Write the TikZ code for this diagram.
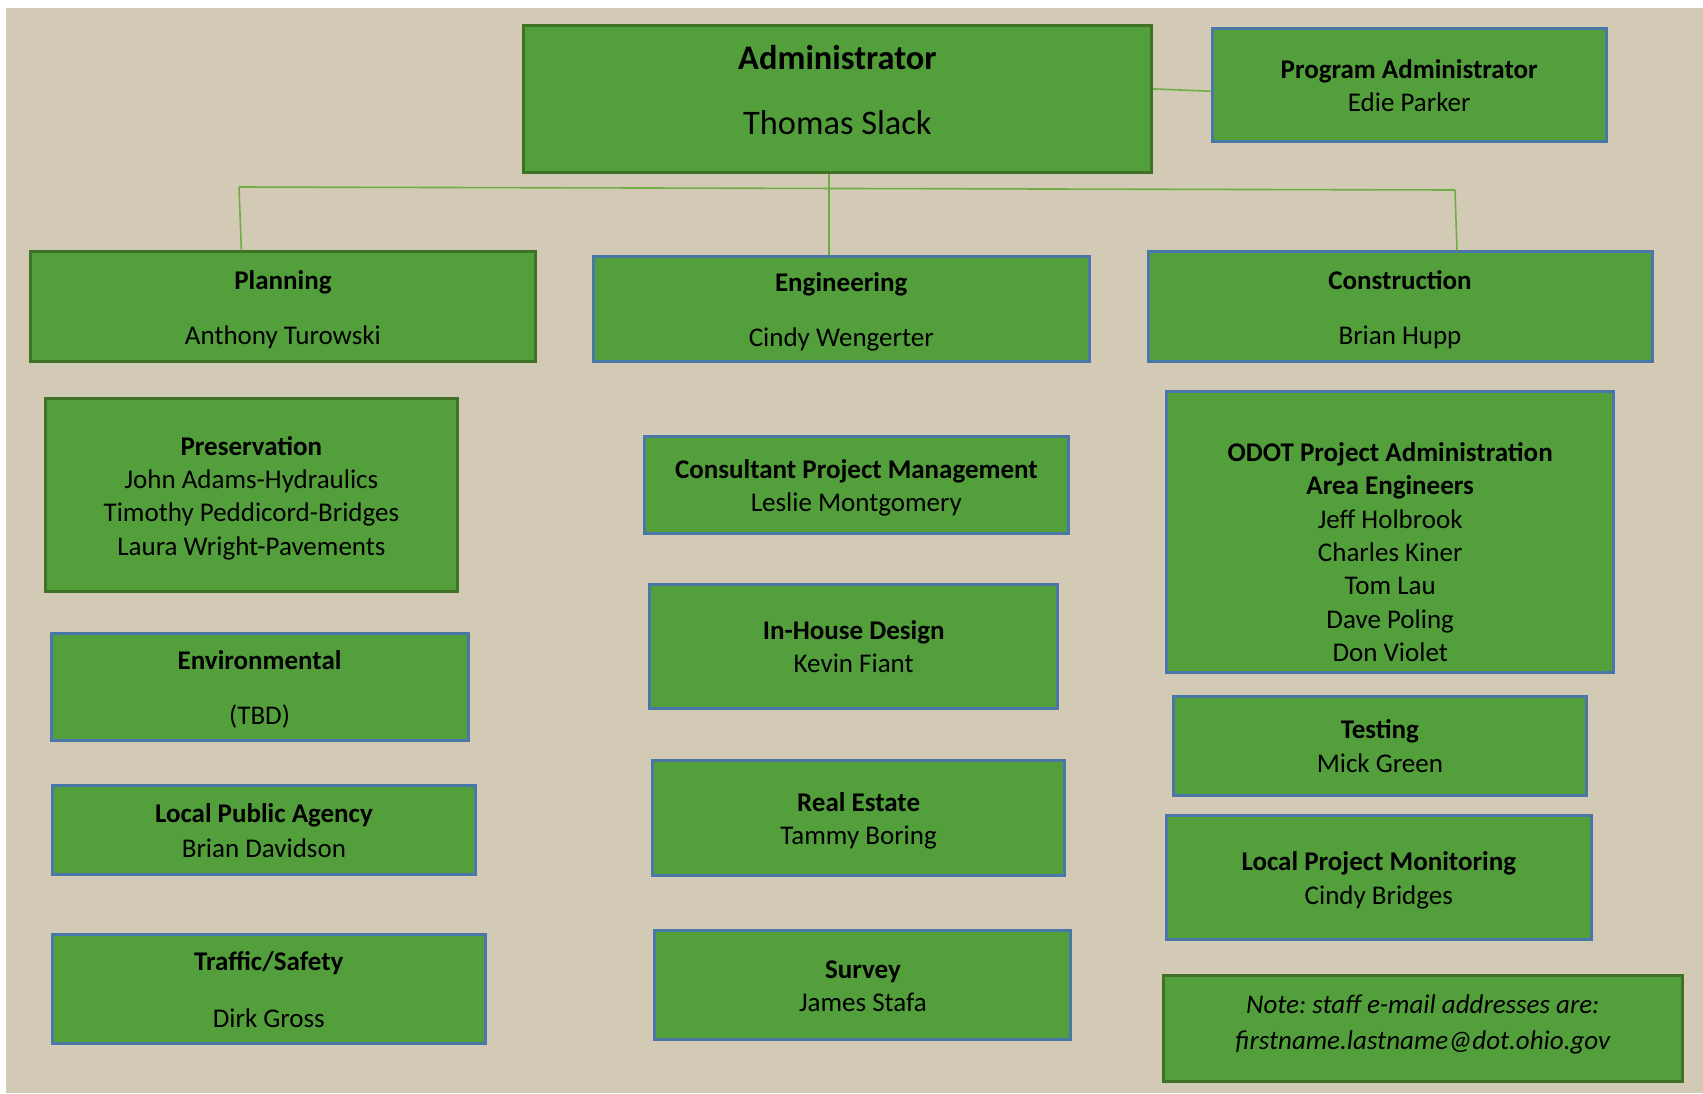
\documentclass[tikz,border=0pt]{standalone}
\usepackage{fontspec}
\setmainfont{Carlito}
\frenchspacing
\definecolor{bg}{HTML}{D3CAB5}
\definecolor{boxgreen}{HTML}{539F3B}
\definecolor{darkgreen}{HTML}{3F7127}
\definecolor{bluebord}{HTML}{4A76A8}
\definecolor{connc}{HTML}{70AD47}
\newcommand\tstrut{\rule{0pt}{30pt}}
\begin{document}
\begin{tikzpicture}[x=1pt,y=-1pt,
  box/.style={fill=boxgreen, line width=3pt, inner sep=0pt, align=center,
    font=\fontsize{27}{33.3}\selectfont\frenchspacing, text=black},
  gbox/.style={box, draw=darkgreen},
  bbox/.style={box, draw=bluebord},
  conn/.style={draw=connc, line width=1.6pt}]
\useasboundingbox (0,0) rectangle (1703,1093);
\fill[white] (0,0) rectangle (1703,1093);
\fill[bg] (6,8) rectangle (1703,1093);

% top
\node[gbox, minimum width=627.8pt, minimum height=147.7pt,
  font=\fontsize{34.4}{42}\selectfont] (admin) at (837.4,98.9)
  {\rule{0pt}{33.8pt}\textbf{Administrator}\\[23pt]Thomas Slack\rule[-27.4pt]{0pt}{27.4pt}};
\node[bbox, minimum width=394.2pt, minimum height=113pt] (prog) at (1409.2,84.7)
  {\tstrut\textbf{Program Administrator}\\Edie Parker\strut};

% divisions
\node[gbox, minimum width=505pt, minimum height=109.7pt] (plan) at (282.9,306.8)
  {\tstrut\textbf{Planning}\\[22.2pt]Anthony Turowski\strut};
\node[bbox, minimum width=496.4pt, minimum height=105.4pt] (eng) at (841.2,309)
  {\tstrut\textbf{Engineering}\\[22.2pt]Cindy Wengerter\strut};
\node[bbox, minimum width=504pt, minimum height=109.7pt] (cons) at (1400,306.8)
  {\tstrut\textbf{Construction}\\[22.2pt]Brian Hupp\strut};

% planning column
\node[gbox, minimum width=411.6pt, minimum height=193.3pt] (pres) at (251.4,495.3)
  {\tstrut\textbf{Preservation}\\John Adams-Hydraulics\\Timothy Peddicord-Bridges\\Laura Wright-Pavements\strut};
\node[bbox, minimum width=417.1pt, minimum height=107.5pt] (env) at (259.6,687)
  {\tstrut\textbf{Environmental}\\[22.2pt](TBD)\strut};
\node[bbox, minimum width=423.6pt, minimum height=89pt] (lpa) at (263.9,829.8)
  {\tstrut\textbf{Local Public Agency}\\[1.4pt]Brian Davidson\strut};
\node[bbox, minimum width=433.4pt, minimum height=109.7pt] (traf) at (268.8,988.9)
  {\tstrut\textbf{Traffic/Safety}\\[23.2pt]Dirk Gross\strut};

% engineering column
\node[bbox, minimum width=424.6pt, minimum height=96.7pt] (cpm) at (856.4,485)
  {\tstrut\textbf{Consultant Project Management}\\Leslie Montgomery\strut};
\node[bbox, minimum width=408.4pt, minimum height=123.8pt] (ihd) at (853.7,646.2)
  {\tstrut\textbf{In-House Design}\\Kevin Fiant\strut};
\node[bbox, minimum width=411.7pt, minimum height=115.1pt] (re) at (858.6,817.9)
  {\tstrut\textbf{Real Estate}\\Tammy Boring\strut};
\node[bbox, minimum width=416pt, minimum height=108.6pt] (surv) at (862.9,985.1)
  {\tstrut\textbf{Survey}\\James Stafa\strut};

% construction column
\node[bbox, minimum width=447.4pt, minimum height=281.3pt] (odot) at (1390.2,531.7)
  {\rule{0pt}{69.4pt}\textbf{ODOT Project Administration}\\\textbf{Area Engineers}\\Jeff Holbrook\\Charles Kiner\\Tom Lau\\Dave Poling\\Don Violet\strut};
\node[bbox, minimum width=413.8pt, minimum height=98.8pt] (test) at (1379.9,745.6)
  {\tstrut\textbf{Testing}\\[1.4pt]Mick Green\strut};
\node[bbox, minimum width=424.6pt, minimum height=123.8pt] (lpm) at (1378.8,877.6)
  {\tstrut\textbf{Local Project Monitoring}\\[1.4pt]Cindy Bridges\strut};
\node[gbox, minimum width=519.2pt, minimum height=106.5pt,
  font=\fontsize{27}{33.3}\selectfont\itshape\frenchspacing] (note) at (1422.8,1028.6)
  {\rule{0pt}{27.7pt}Note: staff e-mail addresses are:\\[2.5pt]firstname.lastname@dot.ohio.gov\rule[-21.3pt]{0pt}{21.3pt}};

% connectors
\coordinate (busL) at (239,187);
\coordinate (busR) at (1455,190);
\draw[conn] (busL) -- (busR);
\draw[conn] (busL) -- ([xshift=-41.5pt]plan.north);
\draw[conn] (busR) -- ([xshift=57pt]cons.north);
\draw[conn] ([xshift=-8.4pt]admin.south) -- ([xshift=-12.2pt]eng.north);
\draw[conn] ([yshift=10pt]admin.east) -- ([yshift=-6.5pt]prog.west);
\end{tikzpicture}
\end{document}
